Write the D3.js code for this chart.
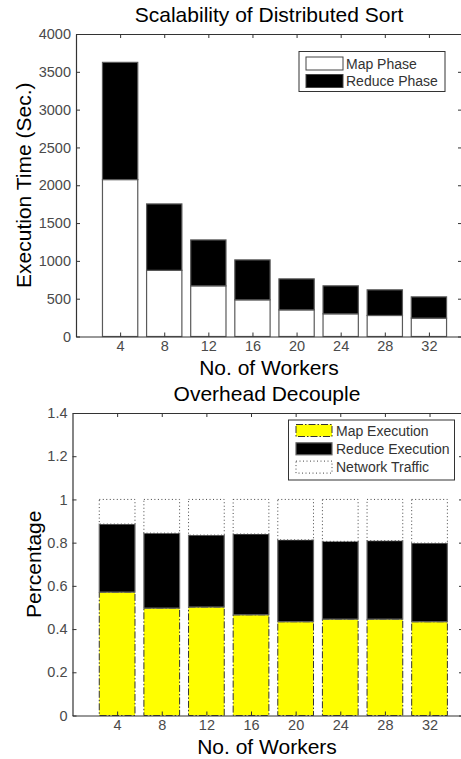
<!DOCTYPE html>
<html>
<head>
<meta charset="utf-8">
<script src="https://cdn.jsdelivr.net/npm/d3@7"></script>
<style>
  html, body { margin: 0; padding: 0; background: #fff; }
  svg { display: block; font-family: "Liberation Sans", Arial, Helvetica, sans-serif; }
  .tick text { fill: #4a4a4a; font-size: 14.5px; }
</style>
</head>
<body>
<svg id="chart" width="461" height="759"></svg>
<script>
// Worker counts shared by both panels
const workers = [4, 8, 12, 16, 20, 24, 28, 32];

// Panel 1: execution time in seconds
const mapPhase    = [2075, 875, 670, 485, 352, 300, 278, 243];
const reducePhase = [1550, 878, 607, 528, 410, 370, 339, 281];
const timeTicks   = [0, 500, 1000, 1500, 2000, 2500, 3000, 3500, 4000];

// Panel 2: share of total time
const mapExec     = [0.571, 0.497, 0.502, 0.466, 0.434, 0.446, 0.446, 0.434];
const reduceExec  = [0.315, 0.347, 0.333, 0.374, 0.379, 0.360, 0.363, 0.364];
const netTraffic  = [0.114, 0.156, 0.165, 0.160, 0.187, 0.194, 0.191, 0.202];
const pctTicks    = [0, 0.2, 0.4, 0.6, 0.8, 1, 1.2, 1.4];
const pctLabels   = ["0", "0.2", "0.4", "0.6", "0.8", "1", "1.2", "1.4"];

const svg = d3.select("#chart");
const barW = 3.2;   // bar width in worker units (0.8 of the 4-worker spacing)
const tickLen = 4;

function frame(g, x, y, yTicks, yFmt) {
  const [x0, x1] = x.range();
  const [y0, y1] = y.range();
  // left axis with inward ticks
  g.append("g").attr("transform", `translate(${x0},0)`)
    .call(d3.axisLeft(y).tickValues(yTicks).tickFormat(yFmt)
      .tickSizeInner(-tickLen).tickSizeOuter(0).tickPadding(5));
  // bottom axis with inward ticks
  g.append("g").attr("transform", `translate(0,${y0})`)
    .call(d3.axisBottom(x).tickValues(workers).tickFormat(d3.format("d"))
      .tickSizeInner(-tickLen).tickSizeOuter(0).tickPadding(4.5));
  // top axis (ticks only)
  g.append("g").attr("transform", `translate(0,${y1})`)
    .call(d3.axisTop(x).tickValues(workers).tickFormat("")
      .tickSizeInner(-tickLen).tickSizeOuter(0));
  // right axis (ticks only)
  g.append("g").attr("transform", `translate(${x1},0)`)
    .call(d3.axisRight(y).tickValues(yTicks).tickFormat("")
      .tickSizeInner(-tickLen).tickSizeOuter(0));
  g.selectAll(".domain").attr("stroke", "#333").attr("stroke-width", 1.2);
  g.selectAll(".tick line").attr("stroke", "#333");
}

// ---------- Panel 1: Scalability of Distributed Sort ----------
{
  const x = d3.scaleLinear().domain([0, 35]).range([76, 462]);
  const y = d3.scaleLinear().domain([0, 4000]).range([336.5, 34]);
  const g = svg.append("g");

  const rows = workers.map((w, i) => ({ w, map: mapPhase[i], reduce: reducePhase[i] }));
  const stack = d3.stack().keys(["map", "reduce"])(rows);
  const fills = { map: "#fff", reduce: "#000" };

  const bw = x(barW) - x(0);
  stack.forEach(layer => {
    g.append("g").selectAll("rect").data(layer).join("rect")
      .attr("x", d => x(d.data.w) - bw / 2)
      .attr("width", bw)
      .attr("y", d => y(d[1]))
      .attr("height", d => y(d[0]) - y(d[1]))
      .attr("fill", fills[layer.key])
      .attr("stroke", "#5a5a5a")
      .attr("stroke-width", 1.2);
  });

  frame(g, x, y, timeTicks, d3.format("d"));

  svg.append("text").attr("x", 269).attr("y", 22).attr("text-anchor", "middle")
    .attr("font-size", 21).text("Scalability of Distributed Sort");
  svg.append("text").attr("x", 269).attr("y", 374.5).attr("text-anchor", "middle")
    .attr("font-size", 21).text("No. of Workers");
  svg.append("text").attr("transform", `translate(31,${(34 + 336.5) / 2}) rotate(-90)`)
    .attr("text-anchor", "middle").attr("font-size", 21).text("Execution Time (Sec.)");

  // legend
  const lg = svg.append("g");
  lg.append("rect").attr("x", 299).attr("y", 51.5).attr("width", 146).attr("height", 40)
    .attr("fill", "#fff").attr("stroke", "#333").attr("stroke-width", 1);
  const items = [{ name: "Map Phase", fill: "#fff" }, { name: "Reduce Phase", fill: "#000" }];
  items.forEach((it, i) => {
    const cy = 63.5 + i * 17.5;
    lg.append("rect").attr("x", 306).attr("y", cy - 6.5).attr("width", 37).attr("height", 13)
      .attr("fill", it.fill).attr("stroke", "#444").attr("stroke-width", 1);
    lg.append("text").attr("x", 346).attr("y", cy + 5).attr("font-size", 14)
      .attr("fill", "#333").text(it.name);
  });
}

// ---------- Panel 2: Overhead Decouple ----------
{
  const x = d3.scaleLinear().domain([0, 35]).range([72.5, 463]);
  const y = d3.scaleLinear().domain([0, 1.4]).range([715.5, 413]);
  const g = svg.append("g");

  const rows = workers.map((w, i) => ({ w, map: mapExec[i], reduce: reduceExec[i], net: netTraffic[i] }));
  const stack = d3.stack().keys(["map", "reduce", "net"])(rows);
  const style = {
    map:    { fill: "#ffff00", stroke: "#333", dash: "7,2,1.5,2", sw: 1 },
    reduce: { fill: "#000",    stroke: "#666", dash: null,        sw: 1.2 },
    net:    { fill: "#fff",    stroke: "#444", dash: "1,2.5",     sw: 1 }
  };

  const bw = x(barW) - x(0);
  stack.forEach(layer => {
    const s = style[layer.key];
    g.append("g").selectAll("rect").data(layer).join("rect")
      .attr("x", d => x(d.data.w) - bw / 2)
      .attr("width", bw)
      .attr("y", d => y(d[1]))
      .attr("height", d => y(d[0]) - y(d[1]))
      .attr("fill", s.fill)
      .attr("stroke", s.stroke)
      .attr("stroke-width", s.sw)
      .attr("stroke-dasharray", s.dash);
  });

  frame(g, x, y, pctTicks, (d, i) => pctLabels[i]);

  svg.append("text").attr("x", 267).attr("y", 401).attr("text-anchor", "middle")
    .attr("font-size", 21).text("Overhead Decouple");
  svg.append("text").attr("x", 267).attr("y", 753.5).attr("text-anchor", "middle")
    .attr("font-size", 21).text("No. of Workers");
  svg.append("text").attr("transform", `translate(41,${(413 + 715.5) / 2}) rotate(-90)`)
    .attr("text-anchor", "middle").attr("font-size", 21).text("Percentage");

  // legend
  const lg = svg.append("g");
  lg.append("rect").attr("x", 288.5).attr("y", 420).attr("width", 166).attr("height", 60)
    .attr("fill", "#fff").attr("stroke", "#333").attr("stroke-width", 1);
  const items = [
    { name: "Map Execution", s: style.map },
    { name: "Reduce Execution", s: style.reduce },
    { name: "Network Traffic", s: style.net }
  ];
  items.forEach((it, i) => {
    const cy = 430.5 + i * 18.3;
    lg.append("rect").attr("x", 296).attr("y", cy - 6).attr("width", 36).attr("height", 12)
      .attr("fill", it.s.fill).attr("stroke", it.s.stroke)
      .attr("stroke-width", it.s.sw).attr("stroke-dasharray", it.s.dash);
    lg.append("text").attr("x", 336).attr("y", cy + 5).attr("font-size", 14)
      .attr("fill", "#333").text(it.name);
  });
}
</script>
</body>
</html>
